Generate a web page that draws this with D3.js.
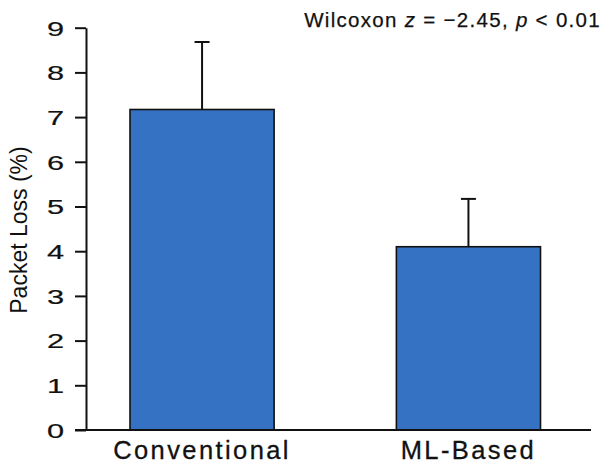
<!DOCTYPE html>
<html>
<head>
<meta charset="utf-8">
<script src="https://cdn.jsdelivr.net/npm/d3@7"></script>
<style>
  body { margin: 0; background: #fff; }
  text { font-family: "Liberation Sans", Arial, Helvetica, sans-serif; fill: #111; }
</style>
</head>
<body>
<script>
// data
var categories = ["Conventional", "ML-Based"];
var meanLoss = [7.17, 4.10];
var errLoss = [1.51, 1.07];
var yTicks = [0, 1, 2, 3, 4, 5, 6, 7, 8, 9];

var width = 603, height = 466;

var svg = d3.select("body").append("svg")
    .attr("width", width)
    .attr("height", height);

// scales
var y = d3.scaleLinear().domain([0, 9]).range([430, 27.7]);
var x = d3.scaleBand().domain(categories).range([130, 540.5])
    .paddingInner(0.459).paddingOuter(0);

var axisX = 86;

// y axis
var yAxis = d3.axisLeft(y).tickValues(yTicks).tickSize(11).tickSizeOuter(0).tickPadding(11);
var gy = svg.append("g")
    .attr("transform", "translate(" + axisX + ",0)")
    .call(yAxis);
gy.select(".domain").attr("stroke", "#111").attr("stroke-width", 2);
gy.selectAll(".tick line").attr("stroke", "#111").attr("stroke-width", 2);
gy.selectAll(".tick text")
    .attr("font-size", 20.5)
    .attr("font-family", null)
    .attr("fill", "#111")
    .attr("stroke", "#111")
    .attr("stroke-width", 0.2)
    .attr("dy", "0.36em")
    .attr("transform", function () {
        // wide digits in the original
        return "translate(-22,0) scale(1.5,1) translate(22,0)";
    });

// bars
svg.selectAll("rect.bar")
    .data(categories)
    .enter().append("rect")
    .attr("class", "bar")
    .attr("x", function (d) { return x(d); })
    .attr("width", x.bandwidth())
    .attr("y", function (d, i) { return y(meanLoss[i]); })
    .attr("height", function (d, i) { return y(0) - y(meanLoss[i]); })
    .attr("fill", "#3672c4")
    .attr("stroke", "#111")
    .attr("stroke-width", 1.6);

// error bars
var err = svg.selectAll("g.err")
    .data(categories)
    .enter().append("g")
    .attr("class", "err");
err.append("line")
    .attr("x1", function (d) { return x(d) + x.bandwidth() / 2; })
    .attr("x2", function (d) { return x(d) + x.bandwidth() / 2; })
    .attr("y1", function (d, i) { return y(meanLoss[i]); })
    .attr("y2", function (d, i) { return y(meanLoss[i] + errLoss[i]); })
    .attr("stroke", "#111").attr("stroke-width", 2);
err.append("line")
    .attr("x1", function (d) { return x(d) + x.bandwidth() / 2 - 7.5; })
    .attr("x2", function (d) { return x(d) + x.bandwidth() / 2 + 7.5; })
    .attr("y1", function (d, i) { return y(meanLoss[i] + errLoss[i]); })
    .attr("y2", function (d, i) { return y(meanLoss[i] + errLoss[i]); })
    .attr("stroke", "#111").attr("stroke-width", 2);

// x baseline
svg.append("line")
    .attr("x1", 75).attr("x2", 591)
    .attr("y1", y(0)).attr("y2", y(0))
    .attr("stroke", "#111").attr("stroke-width", 2);

// x labels
svg.selectAll("text.xlab")
    .data(categories)
    .enter().append("text")
    .attr("class", "xlab")
    .attr("x", function (d) { return x(d) + x.bandwidth() / 2; })
    .attr("y", 459)
    .attr("text-anchor", "middle")
    .attr("font-size", 25.5)
    .attr("letter-spacing", 2.4)
    .attr("stroke", "#111")
    .attr("stroke-width", 0.3)
    .text(function (d) { return d; });

// y title
svg.append("text")
    .attr("transform", "translate(27,230) rotate(-90)")
    .attr("text-anchor", "middle")
    .attr("font-size", 23)
    .text("Packet Loss (%)");

// stats note
var note = svg.append("text")
    .attr("x", 601)
    .attr("y", 27)
    .attr("text-anchor", "end")
    .attr("font-size", 20.5)
    .attr("letter-spacing", 1.3)
    .attr("stroke", "#111")
    .attr("stroke-width", 0.25);
note.append("tspan").text("Wilcoxon ");
note.append("tspan").attr("font-style", "italic").text("z");
note.append("tspan").text(" = \u22122.45, ");
note.append("tspan").attr("font-style", "italic").text("p");
note.append("tspan").text(" < 0.01");
</script>
</body>
</html>
